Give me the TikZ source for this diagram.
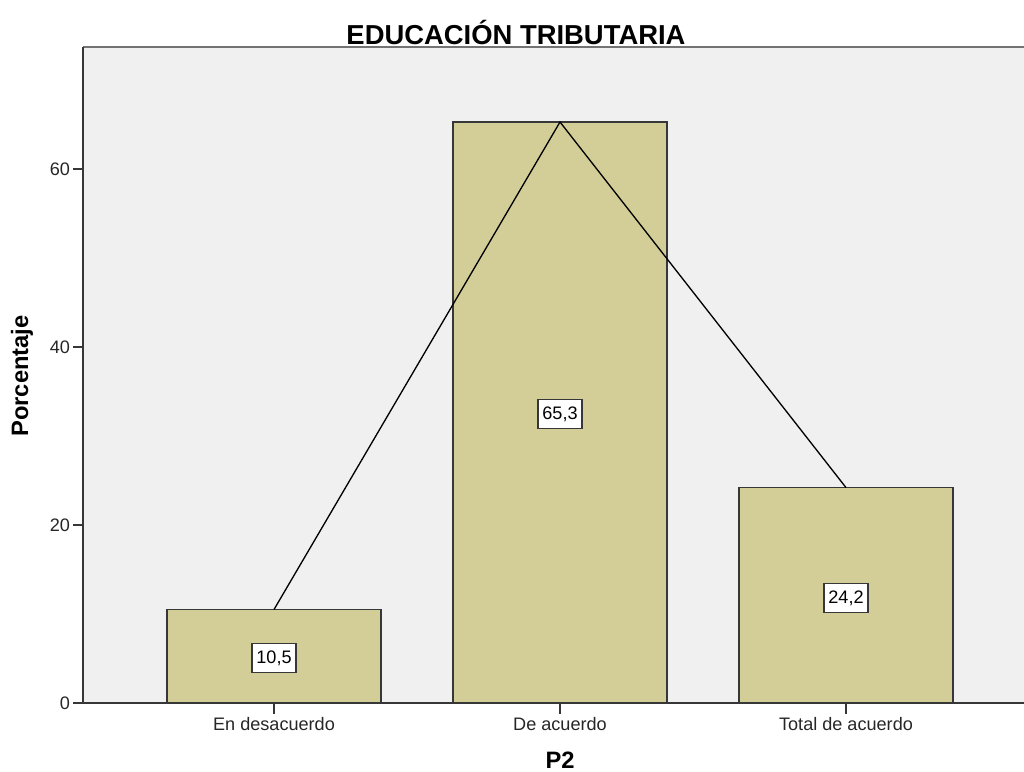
\documentclass[tikz,border=0pt]{standalone}
\usepackage{fontspec}
\setmainfont{Liberation Sans}
\definecolor{plotbg}{RGB}{240,240,240}
\definecolor{barfill}{RGB}{211,206,151}
\definecolor{axisc}{RGB}{55,55,55}
\begin{document}
\begin{tikzpicture}[x=0.02cm,y=-0.02cm,
  barbox/.style={draw=axisc, fill=barfill, line width=0.85pt},
  vallabel/.style={draw=axisc, fill=white, line width=0.9pt, inner sep=0pt,
    minimum width=0.88cm, minimum height=0.58cm, font=\fontsize{10.3}{12}\selectfont},
  ticklabel/.style={font=\fontsize{10.3}{12}\selectfont, text=black!85, inner sep=1pt},
  axisline/.style={draw=axisc, line width=1.1pt},
  tickmark/.style={draw=axisc, line width=1pt}]
\useasboundingbox (0,0) rectangle (1024,771);
% plot background
\fill[plotbg] (83,47) rectangle (1024,703);
\draw[draw=black!55, line width=1.3pt] (83,47) -- (1024,47);
% bars
\draw[barbox] (167,703) rectangle (381,609.5);
\draw[barbox] (453,703) rectangle (667,122);
\draw[barbox] (739,703) rectangle (953,487.6);
% line connecting tops
\coordinate (t1) at (274,609.5);
\coordinate (t2) at (560,122);
\coordinate (t3) at (846,487.6);
\draw[black, line width=0.75pt] (t1) -- (t2) -- (t3);
% value labels
\node[vallabel] (v1) at (274,658) {10,5};
\node[vallabel] (v2) at (560,414) {65,3};
\node[vallabel] (v3) at (846,598) {24,2};
% axes
\draw[axisline] (83,47) -- (83,703);
\draw[axisline] (83,703) -- (1024,703);
% y ticks
\foreach \v/\yy in {0/703,20/525,40/347,60/169}{
  \draw[tickmark] (73,\yy) -- (83,\yy);
  \node[ticklabel, anchor=east] (yl\v) at (72,\yy) {\v};
}
% x ticks
\foreach \xx/\lab/\nm in {274/En desacuerdo/a,560/De acuerdo/b,846/Total de acuerdo/c}{
  \draw[tickmark] (\xx,703) -- (\xx,714);
  \node[ticklabel] (xl\nm) at (\xx,724) {\lab};
}
% titles
\node[font=\bfseries\fontsize{15.6}{18}\selectfont] (title) at (516,32) {EDUCACIÓN TRIBUTARIA};
\node[font=\bfseries\fontsize{13.5}{16}\selectfont, rotate=90] (ylab) at (22,376) {Porcentaje};
\node[font=\bfseries\fontsize{13.5}{16}\selectfont] (xlab) at (560,760) {P2};
\end{tikzpicture}
\end{document}
